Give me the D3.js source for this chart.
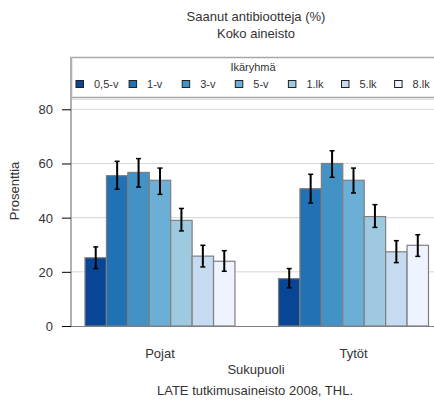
<!DOCTYPE html>
<html>
<head>
<meta charset="utf-8">
<script src="https://cdn.jsdelivr.net/npm/d3@7"></script>
<style>
	body { margin: 0; background: #fff; }
	svg text { font-family: "Liberation Sans", Arial, sans-serif; fill: #333; }
</style>
</head>
<body>
<svg id="chart" width="434" height="400"></svg>
<script>
(function () {
	'use strict';
	// Data
	var groups = ['Pojat', 'Tytöt'],
		ageGroups = ['0,5-v', '1-v', '3-v', '5-v', '1.lk', '5.lk', '8.lk'],
		colors = ['#084594', '#2171b5', '#4292c6', '#6baed6', '#9ecae1', '#c6dbef', '#eff3ff'],
		pojatValues = [25.2, 55.5, 56.7, 53.8, 39.0, 25.8, 23.9],
		pojatLow = [21.2, 50.5, 51.3, 48.6, 35.1, 21.8, 20.2],
		pojatHigh = [29.2, 60.8, 61.8, 58.3, 43.4, 29.8, 27.8],
		tytotValues = [17.5, 50.7, 60.0, 53.8, 40.4, 27.4, 29.8],
		tytotLow = [14.1, 45.4, 54.9, 49.1, 36.4, 23.4, 25.7],
		tytotHigh = [21.2, 56.0, 64.7, 58.3, 44.8, 31.5, 33.7],
		yTicks = [0, 20, 40, 60, 80],
		// Variables
		svg, x, xInner, y, rows, plotLeft, plotRight, plotBottom, legend, err, yAxis;

	plotLeft = 71;
	plotRight = 434;
	plotBottom = 326;

	rows = [];
	groups.forEach(function (g, gi) {
		var vals = gi === 0 ? pojatValues : tytotValues,
			lo = gi === 0 ? pojatLow : tytotLow,
			hi = gi === 0 ? pojatHigh : tytotHigh;
		ageGroups.forEach(function (a, ai) {
			rows.push({ group: g, age: a, i: ai, value: vals[ai], low: lo[ai], high: hi[ai] });
		});
	});

	svg = d3.select('#chart');

	x = d3.scaleBand().domain(groups).range([plotLeft, 442.5]).paddingInner(0.225).paddingOuter(0.0724);
	xInner = d3.scaleBand().domain(ageGroups).range([0, x.bandwidth()]);
	y = d3.scaleLinear().domain([0, 80]).range([plotBottom, 109.3]);

	// titles
	svg.append('text').attr('x', 256).attr('y', 21).attr('text-anchor', 'middle')
		.style('font-size', '13px').text('Saanut antibiootteja (%)');
	svg.append('text').attr('x', 256).attr('y', 38).attr('text-anchor', 'middle')
		.style('font-size', '13px').text('Koko aineisto');

	// gridlines
	svg.append('g').selectAll('line').data(yTicks.slice(1)).enter().append('line')
		.attr('x1', plotLeft).attr('x2', plotRight)
		.attr('y1', function (d) { return y(d); })
		.attr('y2', function (d) { return y(d); })
		.attr('stroke', '#d6d6d6').attr('stroke-width', 1);
	svg.append('line').attr('x1', plotLeft).attr('x2', plotRight).attr('y1', 99.5).attr('y2', 99.5)
		.attr('stroke', '#e0e0e0');

	// legend box
	legend = svg.append('g');
	legend.append('path')
		.attr('d', 'M' + plotRight + ',57.5H' + (plotLeft + 0.5) + 'V97.5H' + plotRight)
		.attr('fill', 'none').attr('stroke', '#a8a8a8').attr('stroke-width', 1.5);
	legend.append('text').attr('x', 253).attr('y', 71).attr('text-anchor', 'middle')
		.style('font-size', '11px').text('Ikäryhmä');
	legend.selectAll('rect').data(ageGroups).enter().append('rect')
		.attr('x', function (d, i) { return 76 + i * 53.1; })
		.attr('y', 80.5).attr('width', 7.5).attr('height', 7)
		.attr('fill', function (d, i) { return colors[i]; })
		.attr('stroke', '#222').attr('stroke-width', 1);
	legend.selectAll('text.item').data(ageGroups).enter().append('text')
		.attr('class', 'item')
		.attr('x', function (d, i) { return 94 + i * 53.1; })
		.attr('y', 88).style('font-size', '11px')
		.text(function (d) { return d; });

	// bars
	svg.append('g').selectAll('rect').data(rows).enter().append('rect')
		.attr('x', function (d) { return x(d.group) + xInner(d.age); })
		.attr('width', xInner.bandwidth())
		.attr('y', function (d) { return y(d.value); })
		.attr('height', function (d) { return y(0) - y(d.value); })
		.attr('fill', function (d) { return colors[d.i]; })
		.attr('stroke', '#7f7f7f').attr('stroke-width', 1.2);

	// error bars
	err = svg.append('g').attr('stroke', '#000').attr('stroke-width', 2);
	err.selectAll('line.v').data(rows).enter().append('line')
		.attr('x1', function (d) { return x(d.group) + xInner(d.age) + xInner.bandwidth() / 2; })
		.attr('x2', function (d) { return x(d.group) + xInner(d.age) + xInner.bandwidth() / 2; })
		.attr('y1', function (d) { return y(d.low); })
		.attr('y2', function (d) { return y(d.high); });
	['low', 'high'].forEach(function (k) {
		err.selectAll('line.' + k).data(rows).enter().append('line')
			.attr('stroke-width', 1.5)
			.attr('x1', function (d) { return x(d.group) + xInner(d.age) + xInner.bandwidth() / 2 - 2.5; })
			.attr('x2', function (d) { return x(d.group) + xInner(d.age) + xInner.bandwidth() / 2 + 2.5; })
			.attr('y1', function (d) { return y(d[k]); })
			.attr('y2', function (d) { return y(d[k]); });
	});

	// axes lines
	svg.append('line').attr('x1', plotLeft).attr('x2', plotLeft).attr('y1', 57).attr('y2', plotBottom)
		.attr('stroke', '#b0b0b0').attr('stroke-width', 2);
	svg.append('line').attr('x1', plotLeft).attr('x2', plotRight).attr('y1', plotBottom + 0.5).attr('y2', plotBottom + 0.5)
		.attr('stroke', '#808080').attr('stroke-width', 1.2);

	// y axis ticks and labels
	yAxis = svg.append('g');
	yAxis.selectAll('line').data(yTicks).enter().append('line')
		.attr('x1', 62).attr('x2', plotLeft)
		.attr('y1', function (d) { return y(d) + 0.5; })
		.attr('y2', function (d) { return y(d) + 0.5; })
		.attr('stroke', '#000').attr('stroke-width', 1);
	yAxis.selectAll('text').data(yTicks).enter().append('text')
		.attr('x', 53).attr('y', function (d) { return y(d) + 5; })
		.attr('text-anchor', 'end').style('font-size', '13px')
		.text(function (d) { return d; });
	svg.append('text').attr('transform', 'translate(19,191) rotate(-90)')
		.attr('text-anchor', 'middle').style('font-size', '13px').text('Prosenttia');

	// x labels
	svg.append('g').selectAll('text').data(groups).enter().append('text')
		.attr('x', function (d) { return x(d) + x.bandwidth() / 2; })
		.attr('y', 358).attr('text-anchor', 'middle').style('font-size', '13px')
		.text(function (d) { return d; });
	svg.append('text').attr('x', 256).attr('y', 374).attr('text-anchor', 'middle')
		.style('font-size', '13px').text('Sukupuoli');
	svg.append('text').attr('x', 255).attr('y', 395).attr('text-anchor', 'middle')
		.style('font-size', '13px').text('LATE tutkimusaineisto 2008, THL.');
}());
</script>
</body>
</html>
